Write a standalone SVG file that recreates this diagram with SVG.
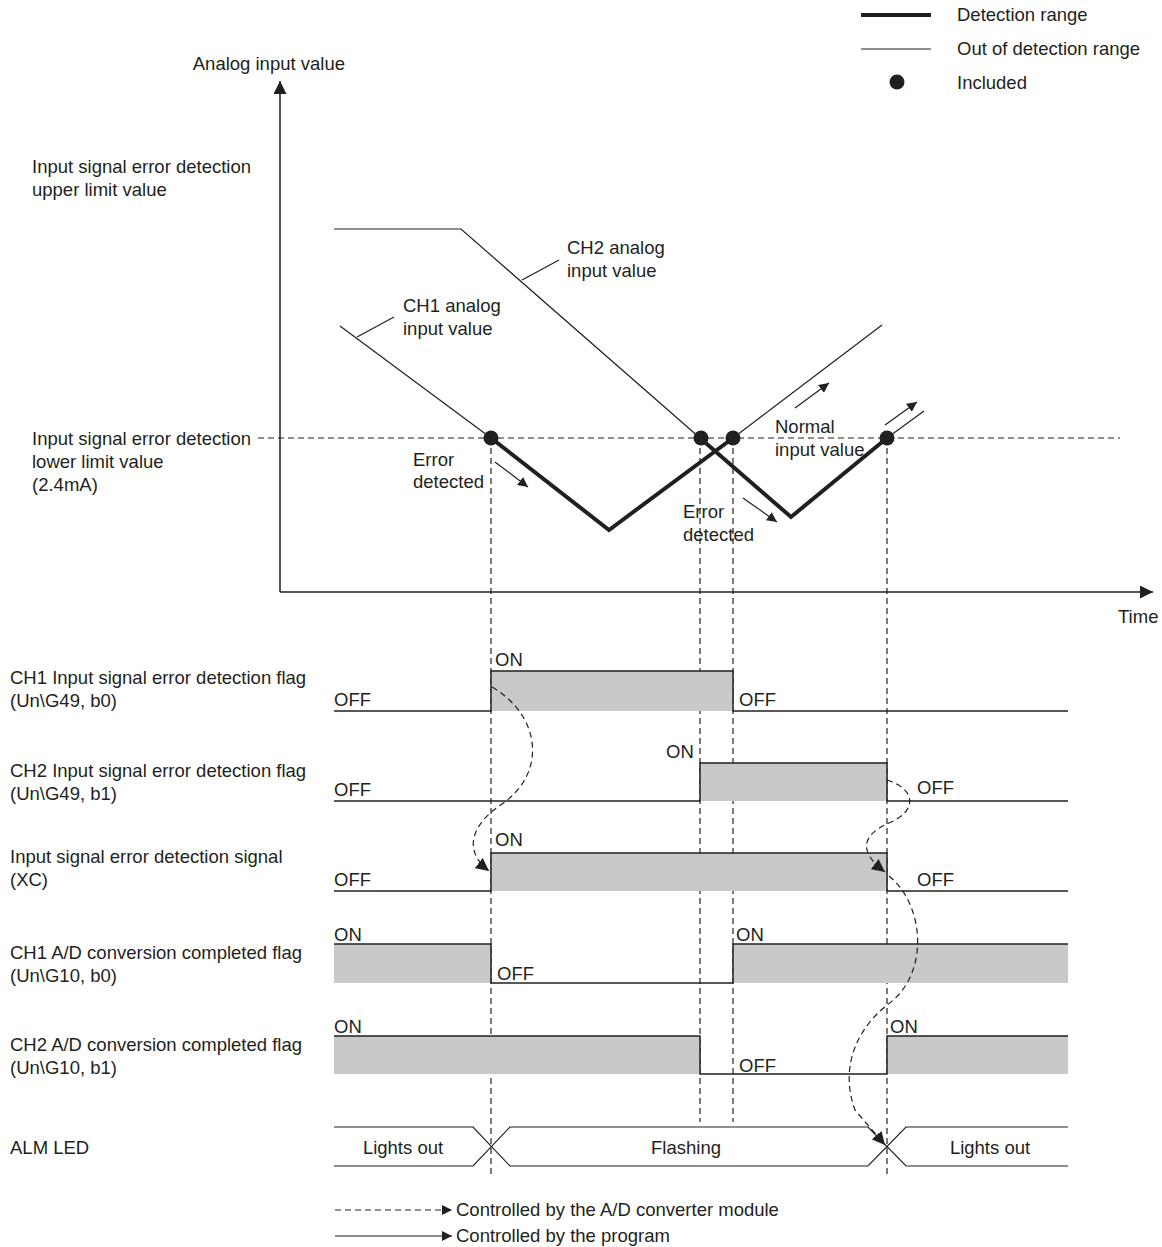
<svg xmlns="http://www.w3.org/2000/svg" width="1162" height="1247" viewBox="0 0 1162 1247">
<style>
text{font-family:"Liberation Sans",Arial,sans-serif;font-size:18.5px;fill:#231f20}
.thin{stroke:#231f20;stroke-width:1.2;fill:none}
.thick{stroke:#231f20;stroke-width:4;fill:none;stroke-linejoin:miter}
.dash{stroke:#231f20;stroke-width:1.2;fill:none;stroke-dasharray:6,4}
.sig{stroke:#231f20;stroke-width:1.5;fill:none}
.fill{fill:#c8c9ca;stroke:none}
.dot{fill:#231f20}
</style>
<defs>
<marker id="ah" viewBox="0 0 10 10" refX="10" refY="5" markerWidth="10" markerHeight="10" markerUnits="userSpaceOnUse" orient="auto">
<path d="M0,0 L10,5 L0,10 z" fill="#231f20"/>
</marker>
<marker id="ah2" viewBox="0 0 10 10" refX="10" refY="5" markerWidth="13" markerHeight="13" markerUnits="userSpaceOnUse" orient="auto">
<path d="M0,0 L10,5 L0,10 z" fill="#231f20"/>
</marker>
</defs>
<rect width="1162" height="1247" fill="#fff"/>

<g id="legend-top">
<line x1="861" y1="15" x2="931" y2="15" class="thick"/>
<text x="957" y="21">Detection range</text>
<line x1="861" y1="49" x2="931" y2="49" class="thin"/>
<text x="957" y="55">Out of detection range</text>
<circle cx="897" cy="82" r="7.5" class="dot"/>
<text x="957" y="89">Included</text>
</g>

<g id="axes">
<line x1="280" y1="592" x2="280" y2="81" class="sig" marker-end="url(#ah2)"/>
<line x1="280" y1="592" x2="1153" y2="592" class="sig" marker-end="url(#ah2)"/>
<text x="345" y="70" text-anchor="end">Analog input value</text>
<text x="1118" y="623">Time</text>
<text x="32" y="173">Input signal error detection</text>
<text x="32" y="196">upper limit value</text>
<text x="32" y="445">Input signal error detection</text>
<text x="32" y="468">lower limit value</text>
<text x="32" y="491">(2.4mA)</text>
<line x1="258" y1="438" x2="1120" y2="438" class="dash"/>
</g>

<g id="ch2-analog">
<polyline points="334,229 461,229 700,438" class="thin"/>
<polyline points="700,438 791,517 887,438" class="thick"/>
<line x1="887" y1="438" x2="924" y2="411" class="thin"/>
<line x1="522" y1="280" x2="559" y2="260" class="thin"/>
<text x="567" y="254">CH2 analog</text>
<text x="567" y="277">input value</text>
</g>

<g id="ch1-analog">
<line x1="340" y1="326" x2="491" y2="438" class="thin"/>
<polyline points="491,438 609,530 733,438" class="thick"/>
<line x1="733" y1="438" x2="882" y2="325" class="thin"/>
<line x1="357" y1="337" x2="394" y2="317" class="thin"/>
<text x="403" y="312">CH1 analog</text>
<text x="403" y="335">input value</text>
</g>

<g id="dots">
<circle cx="491" cy="438" r="7.5" class="dot"/>
<circle cx="701" cy="438" r="7.5" class="dot"/>
<circle cx="733" cy="438" r="7.5" class="dot"/>
<circle cx="887" cy="438" r="7.5" class="dot"/>
</g>

<g id="annotations">
<text x="413" y="466">Error</text>
<text x="413" y="488">detected</text>
<line x1="495" y1="462" x2="528" y2="487" class="thin" marker-end="url(#ah)"/>
<text x="683" y="518">Error</text>
<text x="683" y="541">detected</text>
<line x1="743" y1="498" x2="777" y2="522" class="thin" marker-end="url(#ah)"/>
<text x="775" y="433">Normal</text>
<text x="775" y="456">input value</text>
<line x1="795" y1="408" x2="829" y2="383" class="thin" marker-end="url(#ah)"/>
<line x1="885" y1="425" x2="917" y2="402" class="thin" marker-end="url(#ah)"/>
</g>

<g id="connectors">
<line x1="491" y1="438" x2="491" y2="1176" class="dash"/>
<line x1="700" y1="438" x2="700" y2="1122" class="dash"/>
<line x1="733" y1="438" x2="733" y2="1122" class="dash"/>
<line x1="887" y1="438" x2="887" y2="1176" class="dash"/>
</g>

<g id="row-ch1-flag">
<text x="10" y="684">CH1 Input signal error detection flag</text>
<text x="10" y="707">(Un\G49, b0)</text>
<rect x="491" y="671" width="242" height="40" class="fill"/>
<polyline points="334,711 491,711 491,671 733,671 733,711 1068,711" class="sig"/>
<text x="334" y="706">OFF</text>
<text x="495" y="666">ON</text>
<text x="739" y="706">OFF</text>
</g>

<g id="row-ch2-flag">
<text x="10" y="777">CH2 Input signal error detection flag</text>
<text x="10" y="800">(Un\G49, b1)</text>
<rect x="700" y="763" width="187" height="38" class="fill"/>
<polyline points="334,801 700,801 700,763 887,763 887,801 1068,801" class="sig"/>
<text x="334" y="796">OFF</text>
<text x="666" y="758">ON</text>
<text x="917" y="794">OFF</text>
</g>

<g id="row-xc">
<text x="10" y="863">Input signal error detection signal</text>
<text x="10" y="886">(XC)</text>
<rect x="491" y="853" width="396" height="38" class="fill"/>
<polyline points="334,891 491,891 491,853 887,853 887,891 1068,891" class="sig"/>
<text x="334" y="886">OFF</text>
<text x="495" y="846">ON</text>
<text x="917" y="886">OFF</text>
</g>

<g id="row-ch1-ad">
<text x="10" y="959">CH1 A/D conversion completed flag</text>
<text x="10" y="982">(Un\G10, b0)</text>
<rect x="334" y="944" width="157" height="39" class="fill"/>
<rect x="733" y="944" width="335" height="39" class="fill"/>
<polyline points="334,944 491,944 491,983 733,983 733,944 1068,944" class="sig"/>
<text x="334" y="941">ON</text>
<text x="497" y="980">OFF</text>
<text x="736" y="941">ON</text>
</g>

<g id="row-ch2-ad">
<text x="10" y="1051">CH2 A/D conversion completed flag</text>
<text x="10" y="1074">(Un\G10, b1)</text>
<rect x="334" y="1036" width="366" height="38" class="fill"/>
<rect x="887" y="1036" width="181" height="38" class="fill"/>
<polyline points="334,1036 700,1036 700,1074 887,1074 887,1036 1068,1036" class="sig"/>
<text x="334" y="1033">ON</text>
<text x="739" y="1072">OFF</text>
<text x="890" y="1033">ON</text>
</g>

<g id="row-alm">
<text x="10" y="1154">ALM LED</text>
<polyline points="334,1127 473,1127 510,1166 868,1166 906,1127 1068,1127" class="thin"/>
<polyline points="334,1166 473,1166 510,1127 868,1127 906,1166 1068,1166" class="thin"/>
<text x="403" y="1154" text-anchor="middle">Lights out</text>
<text x="686" y="1154" text-anchor="middle">Flashing</text>
<text x="990" y="1154" text-anchor="middle">Lights out</text>
</g>

<g id="flow-arrows">
<path d="M492,687 C540,715 548,772 502,804 C472,824 462,850 489,871" class="dash" marker-end="url(#ah2)"/>
<path d="M887,780 C918,790 916,812 889,823 C864,834 856,850 885,872" class="dash" marker-end="url(#ah2)"/>
<path d="M889,876 C925,905 930,975 887,1005 C850,1035 842,1075 855,1110 L885,1145" class="dash" marker-end="url(#ah2)"/>
</g>

<g id="legend-bottom">
<line x1="335" y1="1210" x2="452" y2="1210" class="dash" marker-end="url(#ah)"/>
<text x="456" y="1216">Controlled by the A/D converter module</text>
<line x1="335" y1="1236" x2="452" y2="1236" class="thin" marker-end="url(#ah)"/>
<text x="456" y="1242">Controlled by the program</text>
</g>
</svg>
